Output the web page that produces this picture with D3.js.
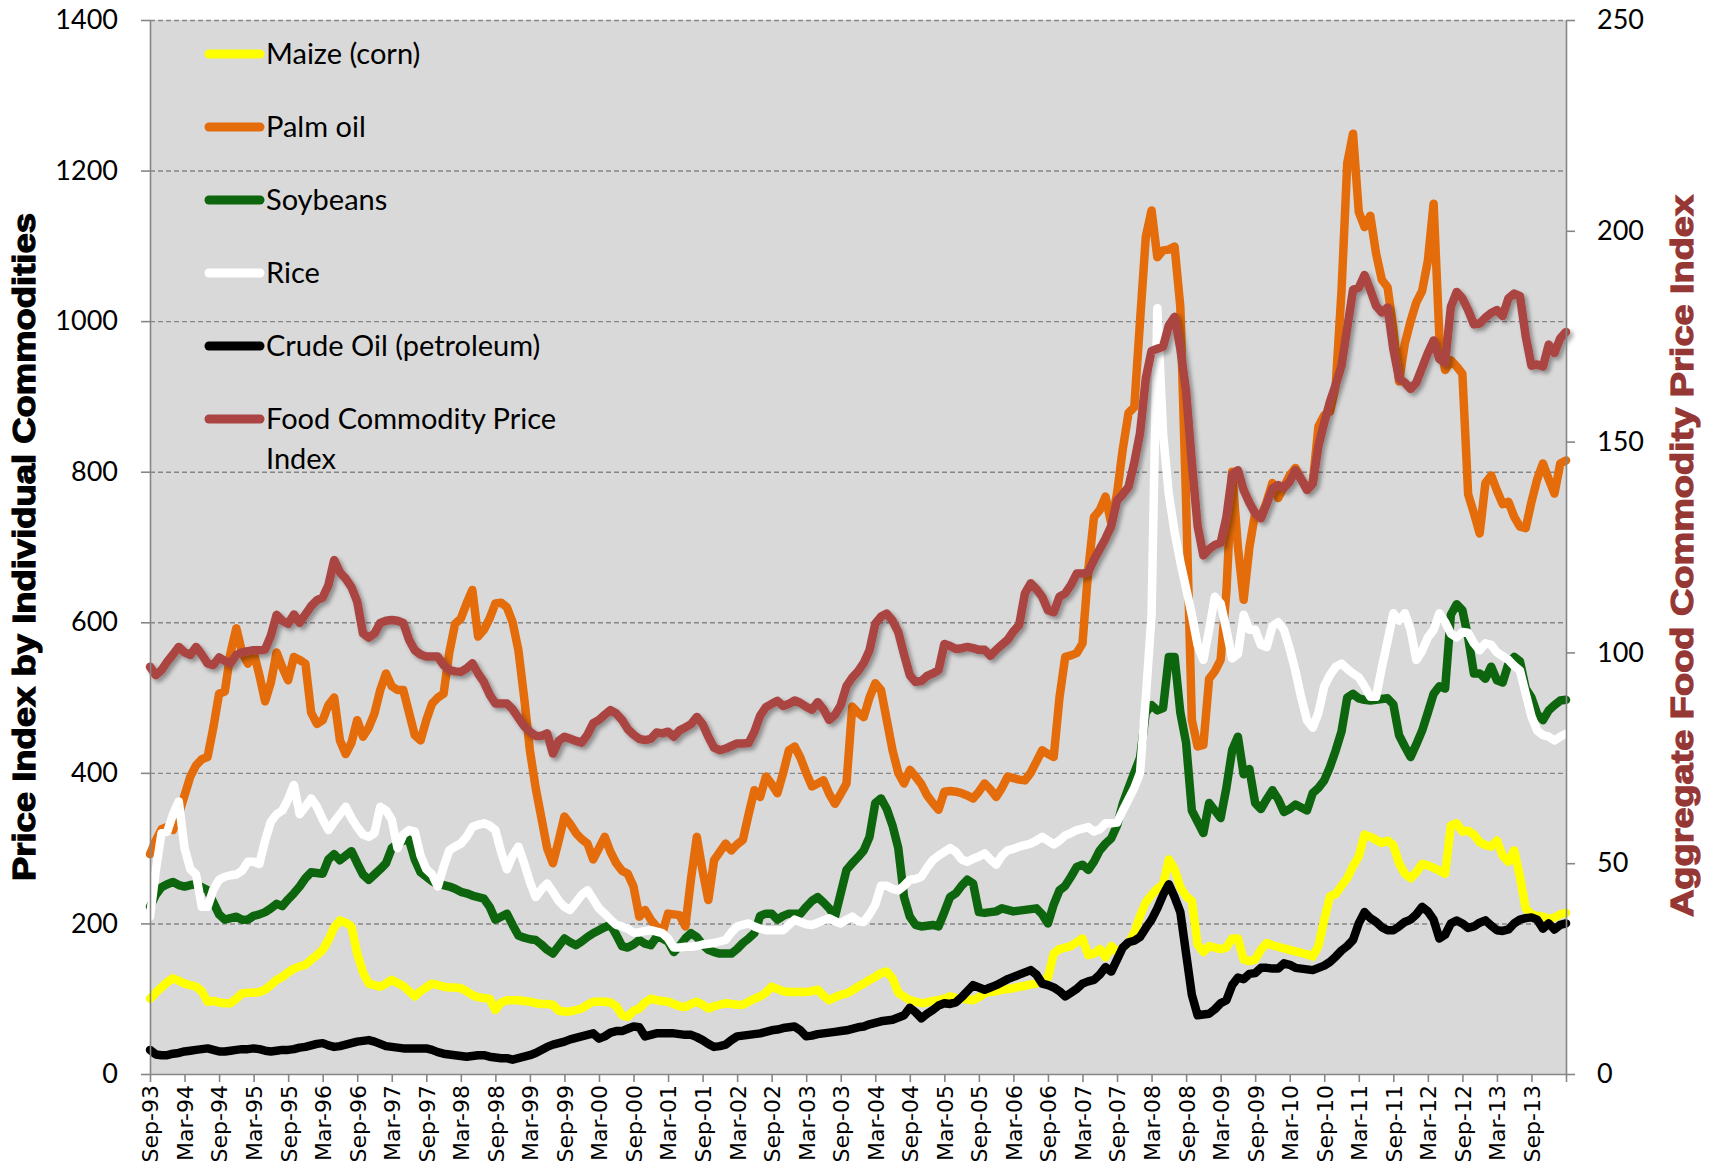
<!DOCTYPE html>
<html>
<head>
<meta charset="utf-8">
<script src="https://cdn.jsdelivr.net/npm/d3@7"></script>
<style>
  body { margin: 0; background: #fff; }
  svg { display: block; }
</style>
</head>
<body>
<div id="chart"></div>
<script>
// x axis labels, one every 6 months starting Sep-93
var tickLabels = ["Sep-93","Mar-94","Sep-94","Mar-95","Sep-95","Mar-96","Sep-96","Mar-97","Sep-97","Mar-98",
  "Sep-98","Mar-99","Sep-99","Mar-00","Sep-00","Mar-01","Sep-01","Mar-02","Sep-02","Mar-03",
  "Sep-03","Mar-04","Sep-04","Mar-05","Sep-05","Mar-06","Sep-06","Mar-07","Sep-07","Mar-08",
  "Sep-08","Mar-09","Sep-09","Mar-10","Sep-10","Mar-11","Sep-11","Mar-12","Sep-12","Mar-13","Sep-13"];

// monthly values, Sep-93 .. Mar-14 (12 per row)
var maize = [
  100,108,115,122,127,124,120,118,116,110,96,97,
  95,94,94,100,107,108,108,109,112,118,125,129,
  135,140,143,145,152,158,165,178,195,204,201,196,
  160,135,120,118,116,120,125,121,117,110,103,110,
  115,120,118,116,115,115,114,110,105,102,101,100,
  85,95,98,98,98,97,96,94,93,93,92,84,
  83,83,85,87,92,96,96,96,95,90,78,76,
  84,87,95,100,98,97,96,93,90,89,93,96,
  92,87,90,92,94,93,92,92,96,100,103,108,
  116,113,110,109,109,109,109,110,112,104,98,102,
  105,107,111,116,120,125,129,134,136,127,108,103,
  98,96,94,95,97,98,100,103,101,100,99,98,
  102,107,109,110,112,113,114,116,117,119,120,124,
  128,160,166,168,170,175,180,158,160,166,155,170,
  162,168,174,188,210,228,238,246,252,285,272,248,
  236,230,172,162,170,168,166,168,180,180,152,150,
  152,165,174,171,169,167,165,163,161,159,156,170,
  205,236,239,250,260,276,289,318,315,311,307,310,
  304,280,266,260,268,279,277,274,270,266,330,333,
  322,323,318,308,304,302,310,290,282,297,262,220,
  212,210,209,206,208,212,214];

var palmOil = [
  292,310,325,328,324,345,370,395,410,418,421,460,
  505,508,560,592,560,545,560,530,495,520,560,540,
  523,554,550,545,480,465,470,490,500,443,425,440,
  470,448,460,479,510,532,515,510,510,480,450,443,
  470,492,500,505,560,598,605,625,643,581,590,605,
  625,626,620,600,563,500,430,380,340,300,280,310,
  342,332,320,312,306,285,300,315,295,280,270,266,
  249,209,218,205,196,187,213,212,211,196,260,315,
  270,231,284,295,306,297,305,311,345,377,368,395,
  385,373,400,430,435,420,400,382,386,390,372,359,
  372,386,488,480,474,500,519,510,470,430,400,386,
  404,395,385,370,360,351,375,376,375,373,370,366,
  375,386,378,368,380,395,393,391,390,400,415,430,
  425,421,500,554,556,559,572,669,740,749,767,731,
  771,830,878,886,1000,1112,1147,1085,1094,1095,1099,1019,
  760,470,435,437,525,535,550,640,800,700,630,700,
  745,740,760,785,765,780,795,805,790,778,785,860,
  875,880,915,1040,1210,1249,1145,1125,1140,1090,1055,1045,
  990,920,970,1000,1025,1040,1080,1156,980,935,948,940,
  930,770,745,718,785,795,775,757,760,740,727,725,
  760,790,811,790,771,811,815];

var soybeans = [
  222,238,248,252,255,251,249,251,252,248,244,228,
  212,205,207,209,205,205,210,212,215,220,226,223,
  232,240,249,260,268,267,266,285,292,284,290,296,
  280,265,258,265,272,280,300,306,310,311,285,268,
  262,256,252,251,249,246,242,240,237,235,233,222,
  205,209,213,198,184,181,179,178,172,165,160,170,
  180,175,171,176,182,187,191,195,198,185,170,168,
  172,178,173,171,182,180,176,162,170,180,187,182,
  172,165,162,160,160,160,166,174,180,187,210,213,
  213,205,210,213,213,213,222,230,235,228,220,209,
  240,271,280,288,297,315,360,366,352,330,300,235,
  209,198,196,197,198,196,215,235,240,250,258,253,
  215,214,215,216,220,218,216,217,218,219,220,212,
  200,225,244,250,262,275,278,271,282,297,306,313,
  330,359,380,400,420,480,490,483,486,554,554,480,
  440,350,335,320,360,350,340,380,430,448,398,405,
  360,352,365,377,365,348,352,358,354,350,373,380,
  390,408,430,455,500,505,499,497,496,497,498,499,
  491,450,435,421,438,456,480,505,515,512,610,624,
  616,580,532,532,525,541,523,520,545,554,548,512,
  500,478,470,483,490,496,497];

var rice = [
  209,270,320,322,345,362,300,272,265,222,222,245,
  258,262,264,265,270,282,282,279,310,335,345,350,
  365,384,345,355,366,355,338,324,335,345,355,340,
  328,318,315,320,355,350,338,300,318,324,322,290,
  272,265,249,275,297,302,306,315,328,331,333,330,
  324,295,272,290,302,280,255,235,245,253,242,230,
  222,218,228,238,244,232,220,213,205,198,196,193,
  188,188,190,191,189,187,180,168,168,169,169,170,
  172,173,174,176,178,188,196,198,200,196,193,191,
  191,191,191,198,205,202,199,198,201,204,207,203,
  200,205,209,203,202,212,225,250,250,246,244,250,
  258,259,262,274,284,290,295,300,295,285,282,286,
  289,293,285,278,290,297,299,302,304,306,310,315,
  310,305,310,317,320,324,326,328,322,325,333,333,
  334,350,365,380,400,500,610,1017,850,770,720,680,
  645,610,570,550,590,634,625,590,552,558,610,590,
  590,570,567,595,600,590,565,535,500,470,460,480,
  515,530,541,545,538,532,527,515,501,501,540,575,
  612,602,612,590,550,562,580,590,612,600,585,580,
  587,586,572,563,572,570,560,555,550,542,536,505,
  475,456,450,448,443,448,452];

var crudeOil = [
  32,26,25,25,27,28,30,31,32,33,34,32,
  30,30,31,32,33,33,34,33,31,30,31,32,
  32,33,35,36,38,40,41,38,36,37,39,41,
  43,44,45,43,40,37,36,35,34,34,34,34,
  34,32,29,27,26,25,24,23,24,25,25,23,
  22,21,21,19,21,23,25,28,32,36,39,41,
  43,46,48,50,52,54,47,50,55,57,57,60,
  63,62,50,52,54,54,54,54,53,52,52,49,
  45,40,36,37,39,45,50,51,52,53,54,56,
  58,59,61,62,63,58,50,51,53,54,55,56,
  57,58,60,62,63,66,68,70,71,72,75,78,
  88,82,74,80,85,91,94,93,95,102,110,118,
  115,112,115,118,122,126,129,132,135,138,132,120,
  118,115,110,103,108,113,120,123,125,132,142,136,
  152,168,175,177,182,194,205,220,238,252,235,215,
  160,105,78,79,80,86,94,98,118,128,126,133,
  134,141,141,140,140,147,145,141,140,139,138,141,
  144,149,156,164,170,178,200,215,207,202,195,191,
  191,196,202,205,212,222,216,205,180,185,200,204,
  200,194,196,201,204,197,191,190,192,200,205,207,
  208,205,193,200,192,198,200];

// right axis series
var foodIndex = [
  96.6,94.6,95.8,97.8,99.5,101.3,100,99.4,101.3,99.5,97.4,97,
  98.8,98,97.4,99.4,100,100.3,100.5,100.5,100.7,104,108.9,107.5,
  106.8,109,107,109,111,112.4,113,116,121.9,119,117.5,115.5,
  112,104.5,103.5,104.5,107,107.5,107.7,107.5,107,103,100.5,99.5,
  99,99,99,97,95.8,95.5,95.4,96.2,97.4,95,93,90,
  87.9,87.9,87.9,86.5,84.5,82.5,81.2,80.2,80.2,80.8,76,79,
  80,79.5,79,78.6,80.5,83.2,84,85.2,86.3,85.5,84,81.8,
  80.5,79.5,79.2,79.5,81,80.8,81.2,80,81.5,82.2,83,84.7,
  83,80,77.4,76.8,77.2,77.8,78.4,78.4,78.5,81.2,85,87,
  87.8,88.5,87.3,87.8,88.6,88,87.1,86.4,88.2,86.5,84,85.2,
  87.5,92,94,95.5,97.5,100.5,106.8,108.5,109.2,107.5,104.8,99.5,
  94.6,93,93.2,94.4,95,95.8,102,101.5,100.8,101,101.3,101,
  100.6,100.6,99.2,100.6,101.8,103,105,106.5,114,116.4,115,113.2,
  110,109.5,113.2,114,116,118.7,118.7,119,122,124.5,127,130,
  136,137.5,139.3,145,152,165,171.5,172,172.5,177.5,179.6,172,
  162,145,130,123,124.5,125.5,126,132,142.2,143.2,138.5,135.5,
  133,131.8,135.2,138.9,139.7,139,140.5,143.2,141,138.5,140,149,
  154.5,159.5,163.5,168,177,186,186.5,189.5,186,182.2,180.6,181.8,
  172,165,164,162.5,164,167.5,171,174,169.6,168.7,182,185.5,
  184,181.2,177.8,178,179.4,180.5,181.2,179.8,184,185.1,184.5,175,
  168,168.3,167.8,173,171,174.5,176];

var seriesNames = ["Maize (corn)", "Palm oil", "Soybeans", "Rice", "Crude Oil (petroleum)", "Food Commodity Price Index"];
var seriesColors = ["#ffff00", "#e46c0a", "#0d650d", "#ffffff", "#000000", "#aa4543"];

var series = [
  {name: seriesNames[0], values: maize, color: seriesColors[0], right: false},
  {name: seriesNames[1], values: palmOil, color: seriesColors[1], right: false},
  {name: seriesNames[2], values: soybeans, color: seriesColors[2], right: false},
  {name: seriesNames[3], values: rice, color: seriesColors[3], right: false},
  {name: seriesNames[4], values: crudeOil, color: seriesColors[4], right: false},
  {name: seriesNames[5], values: foodIndex, color: seriesColors[5], right: true}
];

var W = 1716, H = 1174;
var plot = {left: 150, right: 1566, top: 20, bottom: 1074};
var axisColor = "#868686";
var numFont = "Lato, 'Open Sans', sans-serif";

var svg = d3.select("#chart").append("svg")
    .attr("width", W)
    .attr("height", H);

// shadow used for the food index line
var defs = svg.append("defs");
defs.append("filter")
    .attr("id", "shadow")
    .attr("x", "-5%").attr("y", "-5%").attr("width", "110%").attr("height", "110%")
  .append("feDropShadow")
    .attr("dx", 3).attr("dy", 3).attr("stdDeviation", 2)
    .attr("flood-color", "#000").attr("flood-opacity", 0.35);

var x = d3.scaleLinear().domain([0, maize.length - 1]).range([plot.left, plot.right]);
var y = d3.scaleLinear().domain([0, 1400]).range([plot.bottom, plot.top]);
var y2 = d3.scaleLinear().domain([0, 250]).range([plot.bottom, plot.top]);

//plot background
svg.append("rect")
    .attr("x", plot.left).attr("y", plot.top)
    .attr("width", plot.right - plot.left)
    .attr("height", plot.bottom - plot.top)
    .attr("fill", "#d9d9d9");

//dashed gridlines
var grid = svg.append("g")
    .attr("transform", "translate(" + plot.left + ",0)")
    .call(d3.axisLeft(y).tickValues(d3.range(200, 1401, 200))
      .tickSize(-(plot.right - plot.left)).tickFormat(""));
grid.select(".domain").remove();
grid.selectAll("line")
    .attr("stroke", axisColor)
    .attr("stroke-width", 1.4)
    .attr("stroke-dasharray", "5,3");

//series lines
series.forEach(function(s) {
  var sc = s.right ? y2 : y;
  var line = d3.line()
      .x(function(d, i) { return x(i); })
      .y(function(d) { return sc(d); });
  svg.append("path")
      .datum(s.values)
      .attr("d", line)
      .attr("fill", "none")
      .attr("stroke", s.color)
      .attr("stroke-width", 8.5)
      .attr("stroke-linejoin", "round")
      .attr("stroke-linecap", "round")
      .attr("filter", s.right ? "url(#shadow)" : null);
});

//left axis
var yAxis = svg.append("g")
    .attr("transform", "translate(" + plot.left + ",0)")
    .call(d3.axisLeft(y).tickValues(d3.range(0, 1401, 200)).tickFormat(d3.format("d"))
      .tickSize(9).tickSizeOuter(0).tickPadding(23));

//right axis
var yAxis2 = svg.append("g")
    .attr("transform", "translate(" + plot.right + ",0)")
    .call(d3.axisRight(y2).tickValues(d3.range(0, 251, 50)).tickFormat(d3.format("d"))
      .tickSize(9).tickSizeOuter(0).tickPadding(22));

//x axis
var xAxis = svg.append("g")
    .attr("transform", "translate(0," + plot.bottom + ")")
    .call(d3.axisBottom(x).tickValues(d3.range(0, maize.length, 6)).tickSize(8).tickSizeOuter(0)
      .tickFormat(function(d, i) { return tickLabels[i] || ""; }));

[yAxis, yAxis2, xAxis].forEach(function(a) {
  a.select(".domain").attr("stroke", axisColor).attr("stroke-width", 1.6);
  a.selectAll(".tick line").attr("stroke", axisColor).attr("stroke-width", 1.6);
  a.selectAll("text").attr("fill", "#000");
});

[yAxis, yAxis2].forEach(function(a) {
  a.selectAll("text").style("font-family", numFont).style("font-size", "27px");
});

xAxis.selectAll("text")
    .attr("y", 0)
    .attr("x", -11)
    .attr("dy", "0.36em")
    .attr("transform", "rotate(-90)")
    .style("text-anchor", "end")
    .style("font-family", "'DejaVu Sans', Verdana, sans-serif")
    .style("font-size", "22px");

//legend
var legend = svg.append("g").attr("transform", "translate(205,54)");
series.forEach(function(s, i) {
  var g = legend.append("g").attr("transform", "translate(0," + (i * 73) + ")");
  g.append("line")
      .attr("x1", 4).attr("x2", 55)
      .attr("stroke", s.color)
      .attr("stroke-width", 9)
      .attr("stroke-linecap", "round");
  var words = s.name === seriesNames[5] ? ["Food Commodity Price", "Index"] : [s.name];
  var t = g.append("text")
      .attr("x", 61)
      .style("font-family", numFont)
      .style("font-size", "29px")
      .attr("fill", "#000");
  words.forEach(function(w, j) {
    t.append("tspan").attr("x", 61).attr("dy", j === 0 ? "0.36em" : "1.35em").text(w);
  });
});

//axis titles
svg.append("text")
    .attr("transform", "translate(35,547) rotate(-90)")
    .attr("text-anchor", "middle")
    .attr("textLength", 668)
    .attr("lengthAdjust", "spacingAndGlyphs")
    .style("font-family", "'Liberation Sans', Arial, sans-serif")
    .style("font-weight", "bold")
    .style("font-size", "31px")
    .attr("fill", "#000")
    .attr("stroke", "#000")
    .attr("stroke-width", 1.2)
    .text("Price Index by Individual Commodities");

svg.append("text")
    .attr("transform", "translate(1693,556) rotate(-90)")
    .attr("text-anchor", "middle")
    .attr("textLength", 722)
    .attr("lengthAdjust", "spacingAndGlyphs")
    .style("font-family", "'Liberation Sans', Arial, sans-serif")
    .style("font-weight", "bold")
    .style("font-size", "31px")
    .attr("fill", "#953735")
    .attr("stroke", "#953735")
    .attr("stroke-width", 1.2)
    .text("Aggregate Food Commodity Price Index");
</script>
</body>
</html>
